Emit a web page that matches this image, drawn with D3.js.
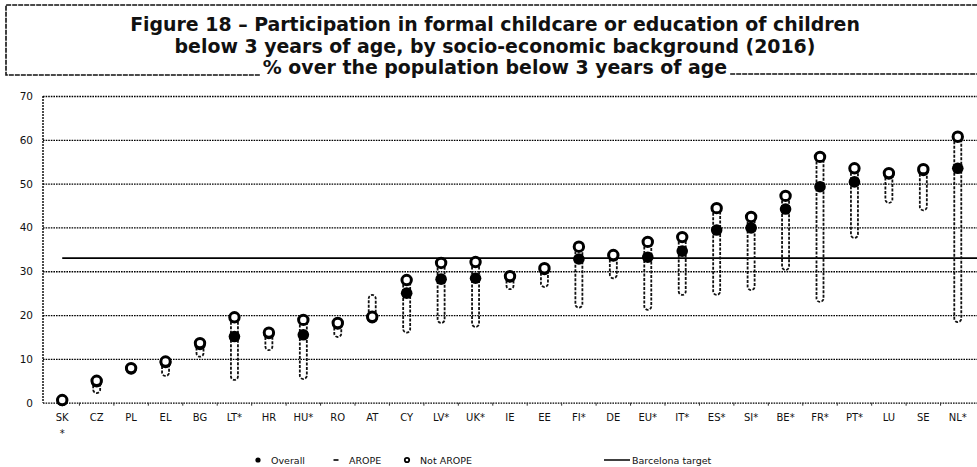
<!DOCTYPE html>
<html>
<head>
<meta charset="utf-8">
<script src="https://cdn.jsdelivr.net/npm/d3@7"></script>
<style>
body { margin: 0; background: #fff; }
text { font-family: "DejaVu Sans", Verdana, sans-serif; fill: #111; }
</style>
</head>
<body>
<script>
// values (% of children below 3)
var countries = ["SK*", "CZ", "PL", "EL", "BG", "LT*", "HR", "HU*", "RO", "AT", "CY", "LV*", "UK*", "IE",
                 "EE", "FI*", "DE", "EU*", "IT*", "ES*", "SI*", "BE*", "FR*", "PT*", "LU", "SE", "NL*"];
var overall  = [0.5, 4.8, 7.7, 9.2, 13.3, 15.1, 15.8, 15.5, 18.0, 19.4, 25.0, 28.2, 28.4, 28.7,
                30.4, 32.8, 33.5, 33.2, 34.6, 39.4, 39.9, 44.2, 49.3, 50.4, 52.2, 53.0, 53.5];
var notArope = [0.6, 5.0, 7.9, 9.4, 13.6, 19.5, 16.0, 18.9, 18.2, 19.6, 28.0, 31.9, 32.1, 28.9,
                30.7, 35.6, 33.7, 36.7, 37.8, 44.4, 42.4, 47.2, 56.1, 53.5, 52.4, 53.3, 60.7];
var arope    = [null, 2.2, null, 6.1, 10.5, 5.2, 12.0, 5.4, 15.0, 24.6, 16.0, 18.2, 17.3, 25.9,
                26.4, 21.7, 28.4, 21.2, 24.6, 24.6, 25.7, 30.3, 23.0, 37.6, 45.6, 43.9, 18.4];
var barcelonaTarget = 33;
var yTicks = [0, 10, 20, 30, 40, 50, 60, 70];
var titleLines = ["Figure 18 \u2013 Participation in formal childcare or education of children",
                  "below 3 years of age, by socio-economic background (2016)",
                  "% over the population below 3 years of age"];
var legendItems = ["Overall", "AROPE", "Not AROPE", "Barcelona target"];

var width = 977,
    height = 467;

var svg = d3.select("body").append("svg")
    .attr("width", width)
    .attr("height", height);

var rows = countries.map(function (c, i) {
    return {country: c, overall: overall[i], notArope: notArope[i], arope: arope[i]};
});

var x = d3.scaleBand().domain(countries).range([45, 975]);
var y = d3.scaleLinear().domain([0, 70]).range([402.7, 96]);

// ---- title box
var title = svg.append("g");
var tsize = 15;
var t = title.selectAll("text").data(titleLines).enter().append("text")
    .attr("x", 495)
    .attr("y", function (d, i) { return 31 + i * 21.5; })
    .attr("text-anchor", "middle")
    .style("font-weight", "bold")
    .style("font-size", tsize + "px")
    .text(function (d) { return d; });
// fit first line to the width it has in the figure
var w0 = t.node().getComputedTextLength();
tsize = tsize * 730 / w0;
t.style("font-size", tsize.toFixed(2) + "px");
var lastBox = t.nodes()[2].getBBox();

title.append("path")
    .attr("d", "M" + (lastBox.x - 3) + ",75 L6,75 L6,5 L977,5")
    .attr("fill", "none").attr("stroke", "#111").attr("stroke-width", 1.6)
    .attr("stroke-dasharray", "5,1");
title.append("line")
    .attr("x1", lastBox.x + lastBox.width + 3).attr("x2", 977)
    .attr("y1", 74).attr("y2", 74)
    .attr("stroke", "#111").attr("stroke-width", 1.6).attr("stroke-dasharray", "5,1");

// ---- grid + y axis
var yAxis = svg.append("g")
    .attr("transform", "translate(43,0)")
    .call(d3.axisLeft(y).tickValues(yTicks).tickSize(-(width - 43)).tickPadding(10));
yAxis.select(".domain").remove();
yAxis.selectAll(".tick line")
    .attr("stroke", "#000").attr("stroke-width", 1.3).attr("stroke-dasharray", "1.6,1");
yAxis.selectAll(".tick text")
    .style("font-size", "10.5px").style("font-family", "DejaVu Sans, sans-serif").attr("fill", "#111");

svg.append("line")
    .attr("x1", 43).attr("x2", 43).attr("y1", y(70)).attr("y2", y(0))
    .attr("stroke", "#000").attr("stroke-width", 1.4).attr("stroke-dasharray", "2,1");

// ---- x axis
var xAxis = svg.append("g")
    .attr("transform", "translate(0," + y(0) + ")")
    .call(d3.axisBottom(x).tickSize(0).tickPadding(11));
xAxis.select(".domain").remove();
xAxis.selectAll(".tick text")
    .style("font-size", "10px").style("font-family", "DejaVu Sans, sans-serif").attr("fill", "#111")
    .each(function (d) {
        // SK carries its flag on a second line
        if (d === "SK*") {
            var el = d3.select(this).text("SK");
            el.append("tspan").attr("x", 0).attr("dy", "1.6em").text("*");
        }
    });
svg.append("g").selectAll("line")
    .data(countries.slice(1))
    .enter().append("line")
    .attr("x1", function (d) { return x(d); })
    .attr("x2", function (d) { return x(d); })
    .attr("y1", y(0)).attr("y2", y(0) + 3)
    .attr("stroke", "#333");

// ---- Barcelona target
svg.append("line")
    .attr("x1", x(countries[0]) + x.bandwidth() / 2)
    .attr("x2", width)
    .attr("y1", y(barcelonaTarget)).attr("y2", y(barcelonaTarget))
    .attr("stroke", "#000").attr("stroke-width", 1.7);

// ---- AROPE connectors (drawn as a narrow dashed U down to the AROPE value)
var hw = 3.5;
svg.append("g").selectAll("path")
    .data(rows.filter(function (d) { return d.arope != null; }))
    .enter().append("path")
    .attr("d", function (d) {
        var cx = x(d.country) + x.bandwidth() / 2;
        var top = y(d.notArope), bot = y(d.arope);
        var dir = bot > top ? 1 : -1;
        var r = Math.min(hw, Math.abs(bot - top));
        return "M" + (cx - hw) + "," + top +
               " L" + (cx - hw) + "," + (bot - dir * r) +
               " A" + hw + "," + r + " 0 0 " + (dir > 0 ? 0 : 1) + " " + (cx + hw) + "," + (bot - dir * r) +
               " L" + (cx + hw) + "," + top;
    })
    .attr("fill", "none")
    .attr("stroke", "#111")
    .attr("stroke-width", 1.8)
    .attr("stroke-dasharray", "3,1.5");

// ---- overall (filled) and not AROPE (open) markers
svg.append("g").selectAll("circle")
    .data(rows)
    .enter().append("circle")
    .attr("cx", function (d) { return x(d.country) + x.bandwidth() / 2; })
    .attr("cy", function (d) { return y(d.overall); })
    .attr("r", 5.8)
    .attr("fill", "#000");

svg.append("g").selectAll("circle")
    .data(rows)
    .enter().append("circle")
    .attr("cx", function (d) { return x(d.country) + x.bandwidth() / 2; })
    .attr("cy", function (d) { return y(d.notArope); })
    .attr("r", 4.7)
    .attr("fill", "#fff")
    .attr("stroke", "#000")
    .attr("stroke-width", 3);

// ---- legend
var legendX = [258, 336, 407, 604];
var legend = svg.append("g").attr("transform", "translate(0,460)");
legend.append("circle").attr("cx", legendX[0]).attr("cy", 0).attr("r", 2.6).attr("fill", "#000");
legend.append("line").attr("x1", legendX[1] - 2.5).attr("x2", legendX[1] + 2.5)
    .attr("y1", 0).attr("y2", 0).attr("stroke", "#000").attr("stroke-width", 1.6);
legend.append("circle").attr("cx", legendX[2]).attr("cy", 0).attr("r", 2.2)
    .attr("fill", "#fff").attr("stroke", "#000").attr("stroke-width", 1.8);
legend.append("line").attr("x1", legendX[3]).attr("x2", legendX[3] + 26)
    .attr("y1", 0).attr("y2", 0).attr("stroke", "#000").attr("stroke-width", 1.5);
legend.selectAll("text").data(legendItems).enter().append("text")
    .attr("x", function (d, i) { return legendX[i] + (i === 3 ? 28 : 13); })
    .attr("y", 3.5)
    .style("font-size", "9.5px")
    .text(function (d) { return d; });
</script>
</body>
</html>
